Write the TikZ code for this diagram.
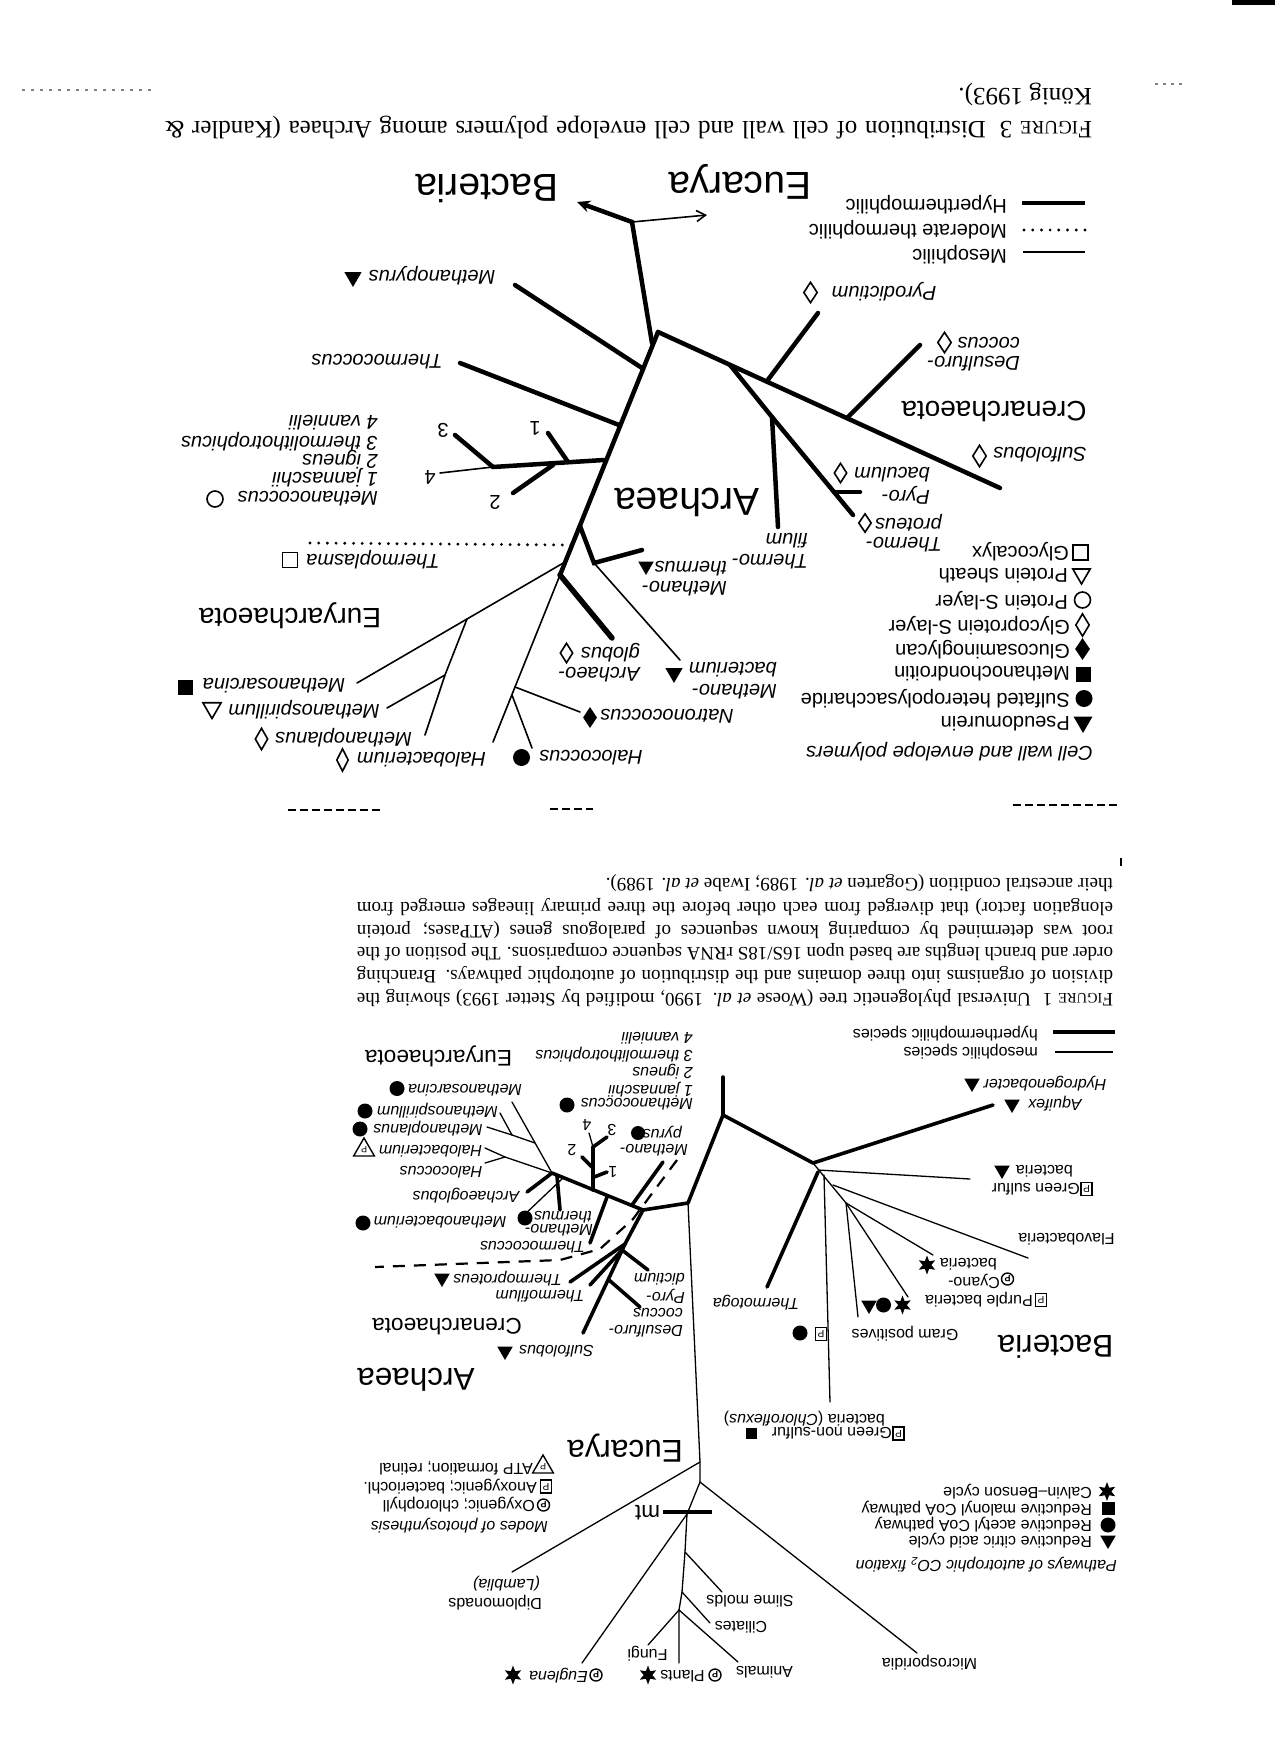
\documentclass[tikz,border=0pt]{standalone}
\usepackage{fontspec}
\setmainfont{Liberation Sans}
\newfontfamily\capfont{Liberation Serif}
\usetikzlibrary{shapes.geometric,arrows.meta}
\begin{document}
\begin{tikzpicture}[x=1pt,y=-1pt,
 lab/.style={rotate=180, inner sep=0pt},
 aw/.style={anchor=west},
 tsp/.style={lab, font=\fontsize{20}{20}\selectfont\itshape},
 tlg/.style={lab, font=\fontsize{20}{20}\selectfont},
 tdom/.style={lab, font=\fontsize{39}{39}\selectfont},
 tgrp/.style={lab, font=\fontsize{28}{28}\selectfont},
 bsp/.style={lab, font=\fontsize{16}{16}\selectfont\itshape},
 blg/.style={lab, font=\fontsize{16}{16}\selectfont},
 bdom/.style={lab, font=\fontsize{31.5}{31.5}\selectfont},
 bgrp/.style={lab, font=\fontsize{22.6}{22.6}\selectfont},
 captA/.style={lab, font=\capfont\fontsize{25}{25}\selectfont},
 captB/.style={lab, font=\capfont\fontsize{19}{19}\selectfont},
 TK/.style={line width=4.5pt, line cap=round},
 TN/.style={line width=1.6pt, line cap=round},
 BK/.style={line width=3.6pt, line cap=round},
 BN/.style={line width=1.3pt, line cap=round},
 fcirc/.style={circle, fill, inner sep=0pt, minimum size=#1},
 ocirc/.style={circle, draw, line width=1.6pt, inner sep=0pt, minimum size=#1},
 ftri/.style={regular polygon, regular polygon sides=3, shape border rotate=180, fill, inner sep=0pt, minimum size=#1},
 otri/.style={regular polygon, regular polygon sides=3, shape border rotate=180, draw, line width=1.6pt, inner sep=0pt, minimum size=#1},
 odia/.style 2 args={diamond, draw, line width=1.6pt, inner sep=0pt, minimum width=#1, minimum height=#2},
 fdia/.style 2 args={diamond, fill, inner sep=0pt, minimum width=#1, minimum height=#2},
 fsq/.style={rectangle, fill, inner sep=0pt, minimum size=#1},
 osq/.style={rectangle, draw, line width=1.6pt, inner sep=0pt, minimum size=#1},
 fstar/.style={star, star points=6, star point ratio=2.2, fill, inner sep=0pt, minimum size=#1},
 pbox/.style={rectangle, draw, line width=1.2pt, inner sep=0pt, minimum width=11pt, minimum height=13pt, rotate=180, font=\fontsize{10}{10}\selectfont},
 pcirc/.style={circle, draw, line width=1.4pt, inner sep=0pt, minimum size=12pt, rotate=180, font=\fontsize{9}{9}\selectfont\bfseries},
 ptri/.style={regular polygon, regular polygon sides=3, draw, line width=1.4pt, inner sep=0pt, minimum size=#1, rotate=180, shape border rotate=180, font=\fontsize{9}{9}\selectfont},
 dotl/.style={line width=3.2pt, line cap=round, dash pattern=on 0pt off 8.7pt},
 dashl/.style={line width=2.2pt, dash pattern=on 12pt off 9pt}
]
\useasboundingbox (0,0) rectangle (1275,1755);
\fill[white] (0,0) rectangle (1275,1755);

% ---------- scan marks ----------
\fill (1232,0) rectangle (1275,5);
\draw[line width=1.2pt, gray, dash pattern=on 3pt off 6pt] (22,90) -- (151,90);
\draw[line width=1.2pt, gray, dash pattern=on 3pt off 5pt] (1155,84) -- (1185,84);
\draw[line width=1.3pt, dash pattern=on 8pt off 4pt] (288,810) -- (383,810);
\draw[line width=1.3pt, dash pattern=on 8pt off 4pt] (550,809) -- (593,809);
\draw[line width=1.3pt, dash pattern=on 8pt off 4pt] (1013,805) -- (1119,805);
\draw[line width=1.2pt] (1121,858) -- (1121,866);

% ---------- Figure 3 caption ----------
\node[captA, aw] (c3b) at (1092,94) {König 1993).};
\node[captA] (c3a) at (628.5,128) {\makebox[927pt][s]{F{\fontsize{19}{19}\selectfont IGURE} 3\hspace{14pt}Distribution of cell wall and cell envelope polymers among Archaea (Kandler \&}};

% ---------- Figure 3 tree ----------
\coordinate (J0) at (632,222);
\coordinate (BT) at (577,202);
\coordinate (ET) at (707,215);
\coordinate (K) at (652,343);
\coordinate (V) at (658,332);
\coordinate (Y) at (560,575);
\coordinate (pA) at (642,368); \coordinate (pB) at (515,285);
\coordinate (tA) at (619,425); \coordinate (tB) at (460,363);
\coordinate (mA) at (604,460); \coordinate (mB) at (493,467); \coordinate (mC) at (440,473);
\coordinate (m1a) at (568,462); \coordinate (m1b) at (548,433);
\coordinate (m2a) at (553,465); \coordinate (m2b) at (513,493);
\coordinate (m3b) at (455,435);
\coordinate (tpA) at (571,545); \coordinate (tpB) at (308,543);
\coordinate (mtA) at (580,526); \coordinate (mtB) at (594,563); \coordinate (mtC) at (642,550);
\coordinate (mbD) at (680,660);
\coordinate (agB) at (612,638);
\coordinate (msA) at (565,562); \coordinate (msB) at (467,619); \coordinate (msC) at (357,683);
\coordinate (mpA) at (445,675); \coordinate (mpB) at (425,735); \coordinate (mspB) at (387,708);
\coordinate (hA) at (515,687); \coordinate (hB) at (493,742); \coordinate (ncB) at (580,712);
\coordinate (hC) at (512,695); \coordinate (hcB) at (532,748);
\coordinate (sfB) at (1000,488);
\coordinate (pdA) at (767,381); \coordinate (pdB) at (818,313);
\coordinate (dsA) at (847,418); \coordinate (dsB) at (920,345);
\coordinate (crA) at (730,365); \coordinate (crB) at (772,417);
\coordinate (tfB) at (778,527); \coordinate (tprB) at (853,515);
\coordinate (pbA) at (834,492); \coordinate (pbB) at (860,492);

\draw[TK, -{Stealth[length=13pt,width=12pt]}] (J0) -- (BT);
\draw[TN, -{Straight Barb[length=9pt,width=11pt]}] (J0) -- (ET);
\draw[TK] (J0) -- (K);
\draw[TK] (V) -- (Y);
\draw[TK] (V) -- (sfB);
\draw[TK] (pA) -- (pB);
\draw[TK] (tA) -- (tB);
\draw[TK] (mA) -- (mB);
\draw[TN] (mB) -- (mC);
\draw[TK] (m1a) -- (m1b);
\draw[TK] (m2a) -- (m2b);
\draw[TK] (mB) -- (m3b);
\draw[dotl] (tpA) -- (tpB);
\draw[TK] (mtA) -- (mtB) -- (mtC);
\draw[TN] (mtB) -- (mbD);
\draw[line width=5.5pt, line cap=round] (Y) -- (agB);
\draw[TN] (msA) -- (msB) -- (msC);
\draw[TN] (msB) -- (mpA) -- (mpB);
\draw[TN] (mpA) -- (mspB);
\draw[TN] (Y) -- (hA) -- (hB);
\draw[TN] (hA) -- (ncB);
\draw[TN] (hC) -- (hcB);
\draw[TK] (pdA) -- (pdB);
\draw[TK] (dsA) -- (dsB);
\draw[TK] (crA) -- (crB) -- (tfB);
\draw[TK] (crB) -- (tprB);
\draw[TK] (pbA) -- (pbB);

% legend lines
\coordinate (lhA) at (1022,203); \coordinate (lhB) at (1085,203);
\coordinate (lmA) at (1024,230); \coordinate (lmB) at (1085,230);
\coordinate (lsA) at (1023,252); \coordinate (lsB) at (1085,252);
\draw[line width=4.5pt] (lhA) -- (lhB);
\draw[dotl] (lmA) -- (lmB);
\draw[line width=1.6pt] (lsA) -- (lsB);

\node[tdom] (tBac) at (487,188) {Bacteria};
\node[tdom] (tEuc) at (740,182) {Eucarya};
\node[tdom] (tArc) at (687,502) {Archaea};
\node[tgrp] (tCren) at (994,412) {Crenarchaeota};
\node[tgrp] (tEury) at (290,616) {Euryarchaeota};

\node[tlg, aw] (lgH) at (1007,205) {Hyperthermophilic};
\node[tlg, aw] (lgM) at (1007,229.5) {Moderate thermophilic};
\node[tlg, aw] (lgS) at (1007,254.5) {Mesophilic};

\node[tsp] (nMpy) at (432,276) {Methanopyrus};
\node[ftri=20] (sMpy) at (353,277) {};
\node[tsp] (nTc) at (377,362) {Thermococcus};
\node[tsp, aw] (nMc) at (378,499) {Methanococcus};
\node[ocirc=16] (sMc) at (215,499) {};
\node[tsp, aw] (nM1) at (378,477.5) {1 jannaschii};
\node[tsp, aw] (nM2) at (378,460) {2 igneus};
\node[tsp, aw] (nM3) at (378,441.5) {3 thermolithotrophicus};
\node[tsp, aw] (nM4) at (378,422.5) {4 vannielii};
\node[tlg] (n1) at (535,428) {1};
\node[tlg] (n2) at (495,502) {2};
\node[tlg] (n3) at (443,430) {3};
\node[tlg] (n4) at (430,477) {4};
\node[tsp] (nTpl) at (373,560) {Thermoplasma};
\node[osq=15] (sTpl) at (290,560) {};
\node[tsp] (nMsa) at (274,685.5) {Methanosarcina};
\node[fsq=15] (sMsa) at (185,687) {};
\node[tsp] (nMsp) at (304,709.5) {Methanospirillum};
\node[otri=21] (sMsp) at (212,708) {};
\node[tsp] (nMpl) at (343.5,737.5) {Methanoplanus};
\node[odia={13pt}{22pt}] (sMpl) at (261.5,739) {};
\node[tsp] (nHb) at (421.5,759.5) {Halobacterium};
\node[odia={12pt}{23pt}] (sHb) at (342.5,760) {};
\node[tsp] (nHc) at (591,757.5) {Halococcus};
\node[fcirc=17] (sHc) at (521.5,757.5) {};
\node[tsp] (nNc) at (667,716.5) {Natronococcus};
\node[fdia={14pt}{21pt}] (sNc) at (590,717.5) {};
\node[tsp, aw] (nAg1) at (640,652.5) {globus};
\node[tsp, aw] (nAg2) at (640,674.5) {Archaeo-};
\node[odia={13pt}{20pt}] (sAg) at (566.5,653) {};
\node[tsp, aw] (nMb1) at (777,670) {bacterium};
\node[tsp, aw] (nMb2) at (777,691.5) {Methano-};
\node[ftri=20] (sMb) at (674,673) {};
\node[tsp, aw] (nMt1) at (727,568.5) {thermus};
\node[tsp, aw] (nMt2) at (727,588.5) {Methano-};
\node[ftri=18] (sMt) at (646,566) {};
\node[tsp, aw] (nTf1) at (808,540.5) {filum};
\node[tsp, aw] (nTf2) at (808,561.5) {Thermo-};
\node[tsp, aw] (nTp1) at (942,522.5) {proteus};
\node[tsp, aw] (nTp2) at (942,544.5) {Thermo-};
\node[odia={13pt}{19pt}] (sTp) at (865,523) {};
\node[tsp, aw] (nPb1) at (930,475) {baculum};
\node[tsp, aw] (nPb2) at (930,495.5) {Pyro-};
\node[odia={13pt}{20pt}] (sPb) at (840.5,473) {};
\node[tsp] (nSf) at (1040,455) {Sulfolobus};
\node[odia={14pt}{22pt}] (sSf) at (979.5,456) {};
\node[tsp, aw] (nDs1) at (1020,342.5) {coccus};
\node[tsp, aw] (nDs2) at (1020,363.5) {Desulfuro-};
\node[odia={14pt}{21pt}] (sDs) at (944.5,342.5) {};
\node[tsp] (nPd) at (884,291.5) {Pyrodictium};
\node[odia={14pt}{21pt}] (sPd) at (810.5,292.5) {};

% cell wall legend
\node[tlg, aw] (cw1) at (1069,551.5) {Glycocalyx};
\node[osq=15] (cs1) at (1080.5,552.5) {};
\node[tlg, aw] (cw2) at (1068,575.5) {Protein sheath};
\node[otri=20] (cs2) at (1081.5,574) {};
\node[tlg, aw] (cw3) at (1068,600.5) {Protein S-layer};
\node[ocirc=16] (cs3) at (1082.5,600) {};
\node[tlg, aw] (cw4) at (1070,625.5) {Glycoprotein S-layer};
\node[odia={14pt}{23pt}] (cs4) at (1082.5,625) {};
\node[tlg, aw] (cw5) at (1070,649.5) {Glucosaminoglycan};
\node[fdia={15pt}{22pt}] (cs5) at (1082.5,649) {};
\node[tlg, aw] (cw6) at (1070,673.5) {Methanochondroitin};
\node[fsq=15] (cs6) at (1083.5,674.5) {};
\node[tlg, aw] (cw7) at (1070,698.5) {Sulfated heteropolysaccharide};
\node[fcirc=17] (cs7) at (1084,698.5) {};
\node[tlg, aw] (cw8) at (1070,723.5) {Pseudomurein};
\node[ftri=22] (cs8) at (1083,722) {};
\node[tsp, aw] (cw0) at (1093,751.5) {Cell wall and envelope polymers};

% ---------- Figure 1 caption ----------
\node[captB, aw] (c1f) at (1113,883) {their ancestral condition (Gogarten \textit{et al.} 1989; Iwabe \textit{et al.} 1989).};
\node[captB] (c1e) at (735,907) {\makebox[756pt][s]{elongation factor) that diverged from each other before the three primary lineages emerged from}};
\node[captB] (c1d) at (735,930) {\makebox[756pt][s]{root was determined by comparing known sequences of paralogous genes (ATPases; protein}};
\node[captB] (c1c) at (735,952) {\makebox[756pt][s]{order and branch lengths are based upon 16S/18S rRNA sequence comparisons. The position of the}};
\node[captB] (c1b) at (735,975) {\makebox[756pt][s]{division of organisms into three domains and the distribution of autotrophic pathways. Branching}};
\node[captB] (c1a) at (735,998) {\makebox[756pt][s]{F{\fontsize{14.5}{14.5}\selectfont IGURE} 1\hspace{12pt}Universal phylogenetic tree (Woese \textit{et al.} 1990, modified by Stetter 1993) showing the}};

% ---------- Figure 1 tree ----------
\coordinate (rA) at (723,1077); \coordinate (Q) at (723,1115);
\coordinate (BJ) at (813,1163); \coordinate (R) at (688,1203);
\coordinate (aqB) at (993,1105);
\coordinate (bJ2) at (846,1203);
\coordinate (gsA) at (818,1170); \coordinate (gsB) at (970,1179);
\coordinate (flA) at (833,1185); \coordinate (flB) at (1028,1258);
\coordinate (cyB) at (933,1255); \coordinate (puB) at (908,1297); \coordinate (gpB) at (858,1317);
\coordinate (gnA) at (824,1175); \coordinate (gnB) at (830,1402);
\coordinate (ttA) at (818,1172); \coordinate (ttB) at (767,1287);
\coordinate (A) at (643,1210);
\coordinate (E1) at (700,1462); \coordinate (E2) at (700,1482);
\coordinate (C) at (625,1244);
\coordinate (sfB2) at (583,1333); \coordinate (pdB2) at (648,1270);
\coordinate (dsA2) at (609,1280); \coordinate (dsB2) at (640,1307);
\coordinate (tprB2) at (570,1282); \coordinate (tflA) at (622,1250); \coordinate (tflB) at (590,1285);
\coordinate (eS) at (552,1173);
\coordinate (mpyA) at (632,1205); \coordinate (mpyB) at (663,1162);
\coordinate (tcA) at (607,1197); \coordinate (tcB) at (590,1243);
\coordinate (mcA) at (593,1190); \coordinate (mcB) at (593,1147);
\coordinate (m1A) at (594,1177); \coordinate (m1B) at (607,1172);
\coordinate (m2A) at (593,1168); \coordinate (m2B) at (582,1157);
\coordinate (m3B) at (607,1137); \coordinate (m4B) at (589,1133);
\coordinate (mthA) at (557,1176); \coordinate (mthB) at (560,1210);
\coordinate (mbA) at (563,1178); \coordinate (mbB) at (522,1217);
\coordinate (agB2) at (527,1192);
\coordinate (msB2) at (512,1102); \coordinate (msM) at (535,1143);
\coordinate (mM) at (512,1135); \coordinate (mplB) at (487,1127); \coordinate (mspB2) at (500,1113);
\coordinate (hJ) at (505,1157); \coordinate (hbB) at (485,1148); \coordinate (hcB2) at (485,1163);
\coordinate (dA) at (677,1160); \coordinate (dB) at (633,1219); \coordinate (dC) at (600,1249);
\coordinate (dD) at (560,1260); \coordinate (dE) at (375,1267);
\coordinate (dipB) at (512,1572); \coordinate (micB) at (917,1653);
\coordinate (E3) at (687,1514); \coordinate (eugB) at (582,1663);
\coordinate (E4) at (685,1552); \coordinate (E5) at (682,1592); \coordinate (E6) at (679,1610);
\coordinate (plB) at (679,1663); \coordinate (slB) at (722,1592); \coordinate (ciB) at (710,1623);
\coordinate (fuB) at (648,1645); \coordinate (anB) at (738,1662);
\coordinate (mtL) at (663,1512); \coordinate (mtR) at (712,1512);

\draw[BK] (rA) -- (Q);
\draw[BK] (Q) -- (BJ);
\draw[BK] (Q) -- (R);
\draw[BK] (BJ) -- (aqB);
\draw[BK] (ttA) -- (ttB);
\draw[BN] (BJ) -- (bJ2);
\draw[BN] (gsA) -- (gsB);
\draw[BN] (flA) -- (flB);
\draw[BN] (bJ2) -- (cyB);
\draw[BN] (bJ2) -- (puB);
\draw[BN] (bJ2) -- (gpB);
\draw[BN] (gnA) -- (gnB);
\draw[BK] (R) -- (A);
\draw[BK] (A) -- (C);
\draw[BK] (C) -- (sfB2);
\draw[BK] (tflA) -- (pdB2);
\draw[BK] (dsA2) -- (dsB2);
\draw[BK] (C) -- (tprB2);
\draw[BK] (tflA) -- (tflB);
\draw[BK] (A) -- (eS);
\draw[BK] (mpyA) -- (mpyB);
\draw[BK] (tcA) -- (tcB);
\draw[BK] (mcA) -- (mcB);
\draw[BK] (m1A) -- (m1B);
\draw[BK] (m2A) -- (m2B);
\draw[BK] (mcB) -- (m3B);
\draw[BN] (mcB) -- (m4B);
\draw[BK] (mthA) -- (mthB);
\draw[BN] (mbA) -- (mbB);
\draw[BK] (eS) -- (agB2);
\draw[BN] (eS) -- (msB2);
\draw[BN] (msM) -- (mM);
\draw[BN] (mM) -- (mplB);
\draw[BN] (mM) -- (mspB2);
\draw[BN] (eS) -- (hJ);
\draw[BN] (hJ) -- (hbB);
\draw[BN] (hJ) -- (hcB2);
\draw[dashl] (dA) -- (dB) -- (dC) -- (dD) -- (dE);
\draw[BN] (R) -- (E1) -- (E2);
\draw[BN] (E1) -- (dipB);
\draw[BN] (E2) -- (micB);
\draw[BN] (E2) -- (E3);
\draw[BN] (E3) -- (eugB);
\draw[BN] (E3) -- (E4) -- (E5) -- (E6) -- (plB);
\draw[BN] (E4) -- (slB);
\draw[BN] (E5) -- (ciB);
\draw[BN] (E6) -- (fuB);
\draw[BN] (E6) -- (anB);
\draw[line width=3.4pt] (mtL) -- (mtR);

% legend lines
\coordinate (blhA) at (1053,1032); \coordinate (blhB) at (1115,1032);
\coordinate (blmA) at (1055,1052); \coordinate (blmB) at (1113,1052);
\draw[line width=3.6pt] (blhA) -- (blhB);
\draw[line width=1.4pt] (blmA) -- (blmB);
\node[blg, aw] (blH) at (1038,1034) {hyperthermophilic species};
\node[blg, aw] (blM) at (1038,1052) {mesophilic species};

\node[bdom] (bBac) at (1055.5,1346.5) {Bacteria};
\node[bdom] (bArc) at (416,1379.5) {Archaea};
\node[bdom] (bEuc) at (625,1448.5) {Eucarya};
\node[bgrp] (bEury) at (438.5,1056.5) {Euryarchaeota};
\node[bgrp] (bCren) at (447,1327) {Crenarchaeota};

\node[bsp, aw] (bMc) at (693,1104) {Methanococcus};
\node[fcirc=15] (bsMc) at (567,1105) {};
\node[bsp, aw] (bM1) at (693,1090) {1 jannaschii};
\node[bsp, aw] (bM2) at (693,1072) {2 igneus};
\node[bsp, aw] (bM3) at (693,1055) {3 thermolithotrophicus};
\node[bsp, aw] (bM4) at (693,1038) {4 vannielii};
\node[blg] (bn1) at (613,1172) {1};
\node[blg] (bn2) at (572,1150) {2};
\node[blg] (bn3) at (612,1130) {3};
\node[blg] (bn4) at (587,1125) {4};

\node[bsp] (bMsa) at (465,1090) {Methanosarcina};
\node[fcirc=15] (bsMsa) at (397,1088.5) {};
\node[bsp] (bMsp) at (437.5,1111) {Methanospirillum};
\node[fcirc=15] (bsMsp) at (365,1111) {};
\node[bsp] (bMpl) at (428,1129) {Methanoplanus};
\node[fcirc=15] (bsMpl) at (360,1129) {};
\node[bsp] (bHb) at (430.5,1151) {Halobacterium};
\node[ptri=24pt] (bsHb) at (364,1150) {P};
\node[bsp] (bHc) at (441,1172) {Halococcus};
\node[bsp] (bAg) at (466,1196) {Archaeoglobus};
\node[bsp] (bMb) at (440,1222.5) {Methanobacterium};
\node[fcirc=15] (bsMb) at (363,1223) {};
\node[bsp, aw] (bMt1) at (592,1217) {thermus};
\node[bsp, aw] (bMt2) at (593,1230) {Methano-};
\node[fcirc=15] (bsMt) at (525,1218) {};
\node[bsp] (bTc) at (532.5,1247.5) {Thermococcus};
\node[bsp] (bTp) at (507.5,1279) {Thermoproteus};
\node[ftri=18] (bsTp) at (442,1278) {};
\node[bsp] (bTf) at (540,1296) {Thermofilum};
\node[bsp] (bSf) at (556.5,1351) {Sulfolobus};
\node[ftri=18] (bsSf) at (505,1351) {};
\node[bsp, aw] (bPd1) at (685,1279) {dictium};
\node[bsp, aw] (bPd2) at (685,1296) {Pyro-};
\node[bsp, aw] (bDs1) at (683,1312.5) {coccus};
\node[bsp, aw] (bDs2) at (683,1331) {Desulfuro-};
\node[bsp, aw] (bMpy1) at (682,1132.5) {pyrus};
\node[bsp, aw] (bMpy2) at (688,1150) {Methano-};
\node[fcirc=14] (bsMpy) at (638,1133) {};

\node[bsp] (bHy) at (1045,1083.5) {Hydrogenobacter};
\node[ftri=18] (bsHy) at (972,1083) {};
\node[bsp] (bAq) at (1055,1103.5) {Aquifex};
\node[ftri=18] (bsAq) at (1012,1104) {};
\node[blg, aw] (bGs1) at (1073,1171) {bacteria};
\node[blg, aw] (bGs2) at (1080,1189) {Green sulfur};
\node[pbox] (bpGs) at (1086.5,1189) {P};
\node[ftri=18] (bsGs) at (1002,1170) {};
\node[blg] (bFl) at (1066.5,1239) {Flavobacteria};
\node[blg, aw] (bCy1) at (997,1264) {bacteria};
\node[blg, aw] (bCy2) at (1000,1281) {Cyano-};
\node[pcirc] (bpCy) at (1007.5,1279) {P};
\node[fstar=19] (bsCy) at (927,1265) {};
\node[blg, aw] (bPu) at (1033,1300) {Purple bacteria};
\node[pbox] (bpPu) at (1041,1300) {P};
\node[ftri=18] (bsPu1) at (869,1305) {};
\node[fcirc=15] (bsPu2) at (883.5,1305) {};
\node[fstar=19] (bsPu3) at (902.5,1305) {};
\node[blg] (bGp) at (905,1334) {Gram positives};
\node[pbox] (bpGn0) at (821,1334) {P};
\node[fcirc=15] (bsGn0) at (800,1333) {};
\node[bsp] (bTt) at (756,1302.5) {Thermotoga};
\node[blg, aw] (bGn1) at (892,1433.5) {Green non-sulfur};
\node[pbox] (bpGn) at (898.5,1433.5) {P};
\node[fsq=11] (bsGn) at (751,1433.5) {};
\node[blg, aw] (bGn2) at (885,1418.5) {bacteria (\textit{Chloroflexus})};

\node[blg, aw] (bDi1) at (542,1602.5) {Diplomonads};
\node[bsp, aw] (bDi2) at (540,1583.5) {(Lamblia)};
\node[blg] (bFu) at (647.5,1654) {Fungi};
\node[blg] (bPl) at (682.5,1676) {Plants};
\node[pcirc] (bpPl) at (715,1675) {P};
\node[fstar=19] (bsPl) at (648,1675) {};
\node[bsp] (bEg) at (558.5,1676) {Euglena};
\node[pcirc] (bpEg) at (596,1675) {P};
\node[fstar=19] (bsEg) at (513,1675) {};
\node[blg] (bAn) at (764.5,1672.5) {Animals};
\node[blg] (bCi) at (741,1627.5) {Ciliates};
\node[blg] (bSm) at (750,1601) {Slime molds};
\node[blg] (bMi) at (929.5,1662.5) {Microsporidia};
\node[lab, font=\fontsize{22.5}{22.5}\selectfont] (bmt) at (647.5,1512.5) {mt};

\node[bsp, aw] (bPh0) at (548,1526) {Modes of photosynthesis};
\node[blg, aw] (bPh1) at (535,1505) {Oxygenic; chlorophyll};
\node[pcirc] (bpPh1) at (543.5,1505) {P};
\node[blg, aw] (bPh2) at (537,1486.5) {Anoxygenic; bacteriochl.};
\node[pbox] (bpPh2) at (546,1486.5) {P};
\node[blg, aw] (bPh3) at (533,1468.5) {ATP formation; retinal};
\node[ptri=24pt] (bpPh3) at (543,1467) {P};

\node[bsp, aw] (bCo0) at (1117,1564.5) {Pathways of autotrophic CO\textsubscript{2} fixation};
\node[blg, aw] (bCo1) at (1092,1541) {Reductive citric acid cycle};
\node[ftri=18] (bsCo1) at (1108,1540) {};
\node[blg, aw] (bCo2) at (1092,1525) {Reductive acetyl CoA pathway};
\node[fcirc=15] (bsCo2) at (1108,1525) {};
\node[blg, aw] (bCo3) at (1092,1508.5) {Reductive malonyl CoA pathway};
\node[fsq=13] (bsCo3) at (1108,1508) {};
\node[blg, aw] (bCo4) at (1092,1491.5) {Calvin–Benson cycle};
\node[fstar=19] (bsCo4) at (1107,1491.5) {};
\end{tikzpicture}
\end{document}
